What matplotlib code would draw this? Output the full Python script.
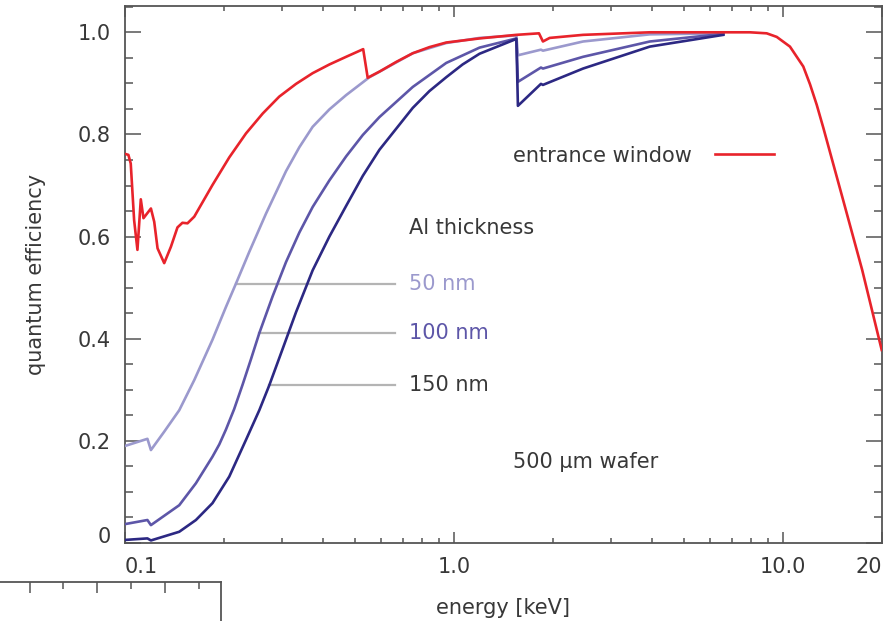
import numpy as np
import matplotlib
matplotlib.use("Agg")
import matplotlib.pyplot as plt
from matplotlib.ticker import FixedLocator, FixedFormatter, LogLocator, NullFormatter, MultipleLocator
from matplotlib.transforms import ScaledTranslation, blended_transform_factory

plt.rcParams['font.family'] = ['DejaVu Sans']

# ---- data -------------------------------------------------------------
# entrance window
window_e = [0.100, 0.1024, 0.1041, 0.1066, 0.1091, 0.1117, 0.1138, 0.1199, 0.1227,
            0.1256, 0.1316, 0.1379, 0.1444, 0.1495, 0.1549, 0.1624, 0.1845, 0.2075,
            0.2333, 0.2623, 0.2944, 0.3312, 0.3721, 0.4183, 0.4703, 0.530, 0.547,
            0.594, 0.668, 0.750, 0.843, 0.948, 1.197, 1.549, 1.815, 1.866, 1.956,
            2.471, 3.944, 7.95, 8.94, 9.59, 10.52, 11.55, 12.11, 12.69, 13.29, 13.93,
            15.26, 17.44, 20.0]
window_qe = [0.762, 0.760, 0.743, 0.632, 0.574, 0.673, 0.636, 0.655, 0.629,
             0.577, 0.548, 0.580, 0.618, 0.627, 0.626, 0.639, 0.701, 0.755,
             0.802, 0.841, 0.874, 0.899, 0.920, 0.937, 0.952, 0.967, 0.911,
             0.923, 0.942, 0.959, 0.971, 0.980, 0.988, 0.995, 0.998, 0.982, 0.989,
             0.995, 1.000, 1.000, 0.998, 0.991, 0.972, 0.933, 0.898, 0.858, 0.813, 0.765,
             0.672, 0.535, 0.378]

# Al filter 50 nm
al50_e = [0.100, 0.117, 0.1199, 0.1316, 0.1462, 0.1624, 0.1845, 0.2027, 0.2175,
          0.2387, 0.2684, 0.3087, 0.3390, 0.3721, 0.4183, 0.4703, 0.5537, 0.750,
          0.948, 1.197, 1.549, 1.566, 1.84, 1.866, 2.471, 3.944, 6.6]
al50_qe = [0.190, 0.204, 0.182, 0.218, 0.260, 0.319, 0.398, 0.462, 0.508,
           0.570, 0.645, 0.728, 0.775, 0.815, 0.849, 0.877, 0.912, 0.959,
           0.979, 0.989, 0.994, 0.955, 0.966, 0.964, 0.982, 0.996, 0.998]

# Al filter 100 nm
al100_e = [0.100, 0.117, 0.1199, 0.1462, 0.1643, 0.1845, 0.1935, 0.2027, 0.2147,
           0.2278, 0.2416, 0.2561, 0.2811, 0.3087, 0.3390, 0.3721, 0.4183, 0.4703,
           0.5287, 0.5939, 0.750, 0.948, 1.197, 1.549, 1.566, 1.84, 1.866, 2.471,
           3.944, 6.6]
al100_qe = [0.037, 0.045, 0.035, 0.074, 0.117, 0.169, 0.193, 0.222, 0.262,
            0.310, 0.360, 0.411, 0.483, 0.550, 0.608, 0.658, 0.710, 0.757,
            0.799, 0.834, 0.893, 0.940, 0.970, 0.988, 0.903, 0.931, 0.929, 0.952,
            0.982, 0.997]

# Al filter 150 nm
al150_e = [0.100, 0.117, 0.1199, 0.1462, 0.1643, 0.1845, 0.2075, 0.2333, 0.2561,
           0.2747, 0.3015, 0.3312, 0.3721, 0.4183, 0.4703, 0.5287, 0.5939, 0.750,
           0.843, 0.948, 1.063, 1.197, 1.549, 1.566, 1.84, 1.866, 2.471, 3.944, 6.6]
al150_qe = [0.006, 0.009, 0.005, 0.022, 0.045, 0.078, 0.130, 0.202, 0.260,
            0.309, 0.380, 0.452, 0.534, 0.600, 0.660, 0.719, 0.770, 0.852,
            0.885, 0.912, 0.937, 0.958, 0.987, 0.856, 0.899, 0.897, 0.929, 0.972, 0.995]

thickness_labels = ["50 nm", "100 nm", "150 nm"]
leader_start_e = [0.2175, 0.2561, 0.2747]   # where each label line meets its curve

x_ticks = [0.1, 1.0, 10.0, 20.0]
x_tick_labels = ["0.1", "1.0", "10.0", "20"]
y_ticks = [0.0, 0.2, 0.4, 0.6, 0.8, 1.0]
y_tick_labels = ["", "0.2", "0.4", "0.6", "0.8", "1.0"]

# ---- style ------------------------------------------------------------
TEXT = "#383838"
AXIS = "#555555"
RED = "#e8232b"
AL_COLORS = ["#9b99cd", "#5d56a8", "#2c2883"]
LABEL_COLORS = ["#9b99cd", "#5d56a8", TEXT]
LEADER = "#b4b4b4"
FS = 15

fig = plt.figure(figsize=(8.92, 6.21), dpi=100)
ax = fig.add_axes([125 / 892, 78 / 621, 756.7 / 892, 537 / 621])

ax.set_xscale("log")
ax.set_xlim(0.1, 20)
ax.set_ylim(0, 1.0515)

al_series = [(al50_e, al50_qe), (al100_e, al100_qe), (al150_e, al150_qe)]
for (e, q), c in zip(al_series, AL_COLORS):
    ax.plot(e, q, color=c, lw=1.9, solid_joinstyle="round", zorder=3)
ax.plot(window_e, window_qe, color=RED, lw=1.9, solid_joinstyle="round", zorder=4)

# label lines from the curves to the thickness labels
label_e = 0.733
leader_end_e = 0.66
for (e, q), e0, txt, tc in zip(al_series, leader_start_e, thickness_labels, LABEL_COLORS):
    y0 = np.interp(np.log10(e0), np.log10(e), q)
    ax.plot([e0, leader_end_e], [y0, y0], color=LEADER, lw=1.6, zorder=2)
    ax.text(label_e, y0, txt, color=tc, fontsize=FS, ha="left", va="center")

ax.text(label_e, 0.617, "Al thickness", color=TEXT, fontsize=FS, ha="left", va="center")
ax.text(1.509, 0.758, "entrance window", color=TEXT, fontsize=FS, ha="left", va="center")
ax.plot([6.21, 9.41], [0.761, 0.761], color=RED, lw=1.9)
ax.text(1.509, 0.1586, "500 µm wafer", color=TEXT, fontsize=FS, ha="left", va="center")

# axes frame and ticks
for s in ax.spines.values():
    s.set_color(AXIS)
    s.set_linewidth(1.3)

ax.xaxis.set_major_locator(FixedLocator(x_ticks))
ax.xaxis.set_major_formatter(FixedFormatter(x_tick_labels))
ax.xaxis.set_minor_locator(LogLocator(base=10, subs=np.arange(2, 10)))
ax.xaxis.set_minor_formatter(NullFormatter())
ax.yaxis.set_major_locator(FixedLocator(y_ticks))
ax.yaxis.set_major_formatter(FixedFormatter(y_tick_labels))
ax.yaxis.set_minor_locator(MultipleLocator(0.05))

ax.tick_params(axis="both", which="both", direction="in", color=AXIS, width=1.1,
               labelcolor=TEXT, labelsize=FS, top=True, right=True)
ax.tick_params(axis="x", which="major", length=7.7, pad=10)
ax.tick_params(axis="x", which="minor", length=3.6)
ax.tick_params(axis="y", which="major", length=11.5, pad=10.5)
ax.tick_params(axis="y", which="minor", length=5.8)

xlabels = ax.get_xticklabels()
xlabels[0].set_ha("left")
xlabels[-1].set_ha("right")

# zero label sits a little above the corner
zero_tr = blended_transform_factory(ax.transAxes, ax.transData) + \
    ScaledTranslation(-10.5 / 72, 6 / 100, fig.dpi_scale_trans)
ax.text(0, 0, "0", transform=zero_tr, ha="right", va="center", fontsize=FS, color=TEXT)

ax.set_xlabel("energy [keV]", fontsize=FS, color=TEXT, labelpad=15.5)
ax.set_ylabel("quantum efficiency", fontsize=FS, color=TEXT, labelpad=22.5)

# frame of a neighbouring panel along the lower left edge
ax2 = fig.add_axes([0, -0.2, 220.7 / 892, 0.2 + 39.3 / 621])
ax2.set_xlim(-0.87, 5.63)
ax2.set_ylim(0, 1)
ax2.patch.set_visible(False)
for side in ("left", "bottom"):
    ax2.spines[side].set_visible(False)
for side in ("top", "right"):
    ax2.spines[side].set_color(AXIS)
    ax2.spines[side].set_linewidth(1.3)
ax2.xaxis.set_major_locator(FixedLocator([0, 2, 4]))
ax2.xaxis.set_minor_locator(FixedLocator([1, 3, 5]))
ax2.tick_params(axis="x", which="both", direction="in", top=True, bottom=False,
                labelbottom=False, color=AXIS, width=1.1)
ax2.tick_params(axis="x", which="major", length=8)
ax2.tick_params(axis="x", which="minor", length=5)
ax2.set_yticks([])

fig.savefig("out.png", dpi=100)
